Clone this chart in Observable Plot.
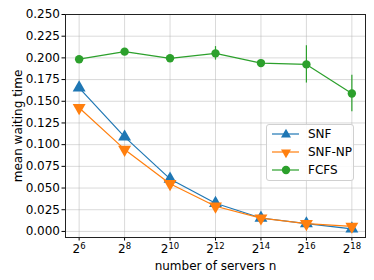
<!DOCTYPE html>
<html><head><meta charset="utf-8">
<script src="https://cdn.jsdelivr.net/npm/d3@7"></script>
<script src="https://cdn.jsdelivr.net/npm/@observablehq/plot@0.6"></script>
<style>
body{margin:0;background:#fff;}
#wrap{position:relative;width:374px;height:280px;font-family:"DejaVu Sans",sans-serif;}
#legend{position:absolute;left:266px;top:124px;width:88px;height:57px;border:1px solid #d0d0d0;border-radius:3px;background:rgba(255,255,255,0.85);box-sizing:border-box;font-size:12px;color:#000;}
#legend .row{position:absolute;left:3px;height:16px;display:flex;align-items:center;}
#legend .row span{margin-left:8px;}
</style></head>
<body><div id="wrap"><div id="chart"></div><div id="legend"></div></div>
<script>
const servers = [64, 256, 1024, 4096, 16384, 65536, 262144];
const snf = [0.1655, 0.109, 0.0605, 0.0325, 0.0155, 0.009, 0.003];
const snfNp = [0.1425, 0.0945, 0.055, 0.029, 0.0153, 0.0089, 0.0058];
const fcfs = [0.1985, 0.2072, 0.1995, 0.2052, 0.1940, 0.1925, 0.1590];
const fcfsErr = [0.002, 0.002, 0.002, 0.0078, 0.002, 0.0215, 0.021];
const yTicks = [0, 0.025, 0.05, 0.075, 0.1, 0.125, 0.15, 0.175, 0.2, 0.225, 0.25];
const seriesNames = ["SNF", "SNF-NP", "FCFS"];
const colors = ["#1f77b4", "#ff7f0e", "#2ca02c"];

const fmtPow = n => "2^" + Math.round(Math.log2(n));

const rows = (vals) => servers.map((n, i) => ({n, y: vals[i]}));
const dSnf = rows(snf);
const dNp = rows(snfNp);
const dF = servers.map((n, i) => ({n, y: fcfs[i], lo: fcfs[i] - fcfsErr[i], hi: fcfs[i] + fcfsErr[i]}));
const xTicks = servers;

const chart = Plot.plot({
  width: 374, height: 280,
  marginLeft: 65, marginRight: 9, marginTop: 14, marginBottom: 43,
  style: {fontFamily: "DejaVu Sans, sans-serif", fontSize: "12px", color: "#000", background: "#fff"},
  x: {type: "log", base: 2, domain: [Math.pow(2, 5.4), Math.pow(2, 18.6)], ticks: xTicks, tickFormat: fmtPow, tickSize: 3.5, tickPadding: 3, label: "number of servers n", labelAnchor: "center", labelArrow: "none", labelOffset: 32},
  y: {domain: [-0.007, 0.25], ticks: yTicks, tickFormat: d3.format(".3f"), tickSize: 3.5, tickPadding: 2, label: "mean waiting time", labelAnchor: "center", labelArrow: "none", labelOffset: 52},
  marks: [
    Plot.ruleX(xTicks, {stroke: "#b0b0b0", strokeOpacity: 0.6, strokeWidth: 0.8}),
    Plot.ruleY(yTicks, {stroke: "#b0b0b0", strokeOpacity: 0.6, strokeWidth: 0.8}),
    Plot.line(dSnf, {x: "n", y: "y", stroke: colors[0], strokeWidth: 1.2}),
    Plot.dot(dSnf, {x: "n", y: "y", symbol: "triangle", r: 4.8, fill: colors[0], stroke: "none"}),
    Plot.line(dNp, {x: "n", y: "y", stroke: colors[1], strokeWidth: 1.2}),
    Plot.dot(dNp, {x: "n", y: "y", symbol: "triangle", rotate: 180, r: 4.8, fill: colors[1], stroke: "none"}),
    Plot.ruleX(dF, {x: "n", y1: "lo", y2: "hi", stroke: colors[2], strokeWidth: 1.2}),
    Plot.line(dF, {x: "n", y: "y", stroke: colors[2], strokeWidth: 1.2}),
    Plot.dot(dF, {x: "n", y: "y", r: 4.2, fill: colors[2], stroke: "none"}),
    Plot.frame({stroke: "#222", strokeWidth: 1})
  ]
});
// superscript exponents on x tick labels
d3.select(chart).selectAll("g[aria-label='x-axis tick label'] text").each(function() {
  const t = this.textContent;
  if (!t.startsWith("2^")) return;
  const e = t.slice(2);
  this.textContent = "";
  const sel = d3.select(this);
  sel.append("tspan").text("2");
  sel.append("tspan").attr("dy", "-0.45em").attr("font-size", "8.5px").text(e);
});
document.getElementById("chart").appendChild(chart);

// legend
const leg = document.getElementById("legend");
seriesNames.forEach((name, i) => {
  const row = document.createElement("div");
  row.className = "row";
  row.style.top = (1 + i * 18) + "px";
  let marker;
  if (i === 2) marker = `<circle cx="16" cy="8" r="4.2" fill="${colors[i]}"/>`;
  else marker = `<path d="${d3.symbol(d3.symbolTriangle, 4.8*4.8*Math.PI*0.6)()}" transform="translate(16,8.5) rotate(${i === 1 ? 180 : 0})" fill="${colors[i]}"/>`;
  row.innerHTML = `<svg width="30" height="16"><line x1="2" x2="29" y1="8" y2="8" stroke="${colors[i]}" stroke-width="1.2"/>${marker}</svg><span>${name}</span>`;
  leg.appendChild(row);
});
</script></body></html>
